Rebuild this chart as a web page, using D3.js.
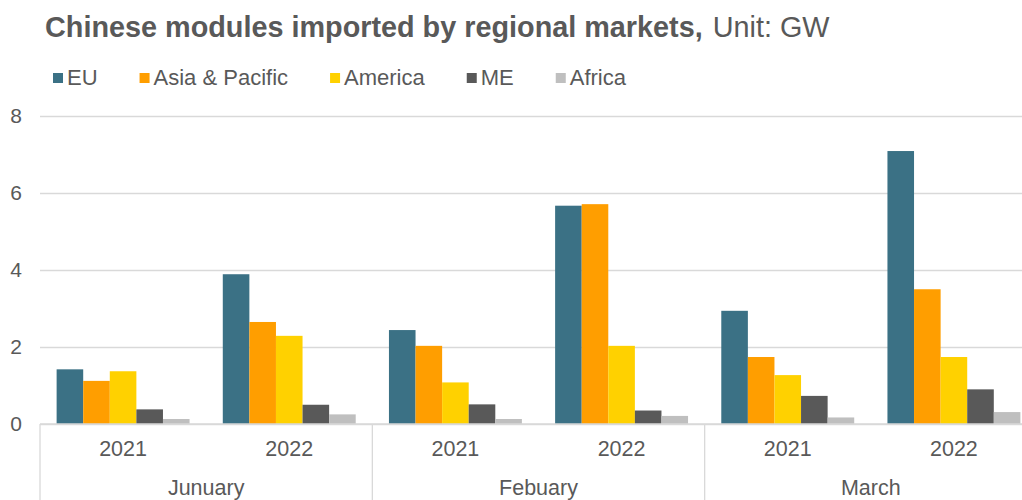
<!DOCTYPE html>
<html>
<head>
<meta charset="utf-8">
<script src="https://cdn.jsdelivr.net/npm/d3@7"></script>
<style>
  html, body { margin: 0; padding: 0; background: #fff; }
  svg { display: block; font-family: "Liberation Sans", Arial, sans-serif; }
</style>
</head>
<body>
<svg id="chart" width="1022" height="500"></svg>
<script>
// Categories
const months = ["Junuary", "Febuary", "March"];
const years = ["2021", "2022"];
const seriesNames = ["EU", "Asia & Pacific", "America", "ME", "Africa"];
const yTicks = [0, 2, 4, 6, 8];

// Values in GW, ordered Jan 2021, Jan 2022, Feb 2021, Feb 2022, Mar 2021, Mar 2022
const euValues      = [1.42, 3.89, 2.44, 5.67, 2.94, 7.09];
const asiaValues    = [1.12, 2.65, 2.03, 5.71, 1.74, 3.50];
const americaValues = [1.37, 2.29, 1.08, 2.03, 1.27, 1.74];
const meValues      = [0.38, 0.50, 0.51, 0.35, 0.73, 0.90];
const africaValues  = [0.13, 0.25, 0.13, 0.21, 0.17, 0.31];

const seriesColors = ["#3b7185", "#ff9e00", "#ffd100", "#595959", "#bfbfbf"];
const seriesValues = [euValues, asiaValues, americaValues, meValues, africaValues];

const textColor = "#595959";
const gridColor = "#d9d9d9";

const svg = d3.select("#chart");

// Plot area (the last group runs slightly past the right edge)
const plot = { left: 40, right: 1037, top: 116, bottom: 424 };

const y = d3.scaleLinear().domain([0, 8]).range([plot.bottom, plot.top]);

const xMonth = d3.scaleBand().domain(months).range([plot.left, plot.right]).padding(0);
const xYear = d3.scaleBand().domain(years).range([0, xMonth.bandwidth()]).padding(0);
const xSeries = d3.scaleBand().domain(seriesNames).range([0, xYear.bandwidth()])
  .paddingInner(0).paddingOuter(0.625);

// Title
const title = svg.append("text")
  .attr("x", 45).attr("y", 37)
  .attr("fill", textColor);
title.append("tspan").attr("font-weight", "bold").style("font-size", "28.8px")
  .text("Chinese modules imported by regional markets,");
title.append("tspan").attr("dx", 10).style("font-size", "28.8px").text("Unit: GW");

// Legend
const legend = svg.append("g").attr("class", "legend");
let lx = 53;
seriesNames.forEach((name, i) => {
  const item = legend.append("g").attr("transform", `translate(${lx},0)`);
  item.append("rect").attr("x", 0).attr("y", 73).attr("width", 10).attr("height", 10)
    .attr("fill", seriesColors[i]);
  const t = item.append("text").attr("x", 14).attr("y", 85)
    .attr("fill", textColor).style("font-size", "22px").text(name);
  lx += 14 + t.node().getComputedTextLength() + 42;
});

// Y axis with gridlines
const yAxis = d3.axisLeft(y).tickValues(yTicks).tickSize(-(plot.right - plot.left)).tickPadding(18)
  .tickFormat(d3.format("d"));
const yg = svg.append("g").attr("transform", `translate(${plot.left},0)`).call(yAxis);
yg.select(".domain").remove();
yg.selectAll(".tick line").attr("stroke", gridColor).attr("stroke-width", 1.3);
yg.selectAll(".tick text").attr("fill", textColor).style("font-size", "21px")
  .style("font-family", "'Liberation Sans', Arial, sans-serif");

// Bars
const cells = [];
months.forEach((m, mi) => {
  years.forEach((yr, yi) => {
    seriesNames.forEach((s, si) => {
      cells.push({ month: m, year: yr, series: s, color: seriesColors[si],
                   value: seriesValues[si][mi * years.length + yi] });
    });
  });
});

svg.append("g").selectAll("rect").data(cells).join("rect")
  .attr("x", d => xMonth(d.month) + xYear(d.year) + xSeries(d.series))
  .attr("y", d => y(d.value))
  .attr("width", xSeries.bandwidth())
  .attr("height", d => y(0) - y(d.value))
  .attr("fill", d => d.color);

// Category axis: baseline, group separators, labels
const axisG = svg.append("g");
axisG.append("line")
  .attr("x1", plot.left).attr("x2", plot.right)
  .attr("y1", y(0)).attr("y2", y(0))
  .attr("stroke", gridColor).attr("stroke-width", 1.3);

const boundaries = months.map(m => xMonth(m)).concat([plot.right]);
axisG.selectAll("line.sep").data(boundaries).join("line")
  .attr("class", "sep")
  .attr("x1", d => d).attr("x2", d => d)
  .attr("y1", y(0)).attr("y2", 500)
  .attr("stroke", gridColor).attr("stroke-width", 1.3);

months.forEach(m => {
  years.forEach(yr => {
    axisG.append("text")
      .attr("x", xMonth(m) + xYear(yr) + xYear.bandwidth() / 2)
      .attr("y", 456)
      .attr("text-anchor", "middle")
      .attr("fill", textColor).style("font-size", "21.5px")
      .text(yr);
  });
  axisG.append("text")
    .attr("x", xMonth(m) + xMonth.bandwidth() / 2)
    .attr("y", 495)
    .attr("text-anchor", "middle")
    .attr("fill", textColor).style("font-size", "21.5px")
    .text(m);
});
</script>
</body>
</html>
